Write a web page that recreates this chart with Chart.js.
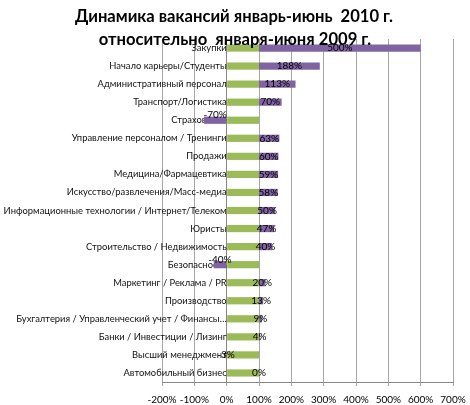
<!DOCTYPE html>
<html><head><meta charset="utf-8">
<script src="https://cdn.jsdelivr.net/npm/chart.js@4.4.0/dist/chart.umd.min.js"></script>
<style>html,body{margin:0;padding:0;background:#fff}#wrap{width:470px;height:405px}</style>
</head><body><div id="wrap"><canvas id="c" width="470" height="405"></canvas></div>
<script>
const titleLines = ["Динамика вакансий январь-июнь  2010 г.", "относительно  января-июня 2009 г."];
const categories = [
  "Закупки","Начало карьеры/Студенты","Административный персонал","Транспорт/Логистика",
  "Страхование","Управление персоналом / Тренинги","Продажи","Медицина/Фармацевтика",
  "Искусство/развлечения/Масс-медиа","Информационные технологии / Интернет/Телеком","Юристы",
  "Строительство / Недвижимость","Безопасность","Маркетинг / Реклама / PR","Производство",
  "Бухгалтерия / Управленческий учет / Финансы…","Банки / Инвестиции / Лизинг",
  "Высший менеджмент","Автомобильный бизнес"];
const baseValues = [100,100,100,100,100,100,100,100,100,100,100,100,100,100,100,100,100,100,100];
const changeValues = [500,188,113,70,-70,63,60,59,58,50,47,40,-40,20,13,9,4,-3,0];
const xTicks = [-200,-100,0,100,200,300,400,500,600,700];

const FONT = "Lato, 'Liberation Sans', sans-serif";

const titlePlugin = {
  id: 'titleDraw',
  afterDraw(chart) {
    const ctx = chart.ctx;
    ctx.save();
    ctx.fillStyle = '#000';
    ctx.font = "bold 16.6px " + FONT;
    ctx.textAlign = 'center';
    ctx.textBaseline = 'middle';
    ctx.fillText(titleLines[0], 234, 17);
    ctx.fillText(titleLines[1], 235, 40);
    ctx.restore();
  }
};

const labelPlugin = {
  id: 'valLabels',
  afterDatasetsDraw(chart) {
    const ctx = chart.ctx;
    const meta = chart.getDatasetMeta(1);
    ctx.save();
    ctx.fillStyle = '#000';
    ctx.font = "10px " + FONT;
    ctx.textAlign = 'center';
    ctx.textBaseline = 'middle';
    meta.data.forEach((el, i) => {
      const v = changeValues[i];
      const cx = (el.x + el.base) / 2;
      const dy = v < -10 ? -5 : 0;
      ctx.fillText(v + '%', cx, el.y + dy);
    });
    ctx.restore();
  }
};

new Chart(document.getElementById('c'), {
  type: 'bar',
  data: {
    labels: categories,
    datasets: [
      { data: baseValues, backgroundColor: '#9BBB59', barPercentage: 0.4, categoryPercentage: 1 },
      { data: changeValues, backgroundColor: '#8064A2', barPercentage: 0.4, categoryPercentage: 1 }
    ]
  },
  options: {
    indexAxis: 'y',
    responsive: false,
    animation: false,
    devicePixelRatio: 1,
    layout: { padding: { left: 162, right: 0, top: 39, bottom: 0 } },
    plugins: { legend: { display: false }, tooltip: { enabled: false }, title: { display: false } },
    scales: {
      x: {
        stacked: true,
        min: -200, max: 700,
        afterBuildTicks(scale) { scale.ticks = xTicks.map(v => ({ value: v })); },
        afterFit(scale) { scale.height = 23; scale.paddingRight = 17; scale.paddingLeft = 0; },
        grid: { color: '#a6a6a6', lineWidth: 1, tickLength: 4, drawTicks: true },
        border: { color: '#868686' },
        ticks: { font: { family: FONT, size: 10 }, color: '#000', padding: 8,
                 callback: v => v + '%', maxRotation: 0 }
      },
      y: {
        stacked: true,
        position: { x: 0 },
        grid: { display: false, drawTicks: false },
        border: { display: true, color: '#868686' },
        ticks: { font: { family: FONT, size: 9.4 }, color: '#111', padding: 8, autoSkip: false }
      }
    }
  },
  plugins: [titlePlugin, labelPlugin]
});
</script></body></html>
